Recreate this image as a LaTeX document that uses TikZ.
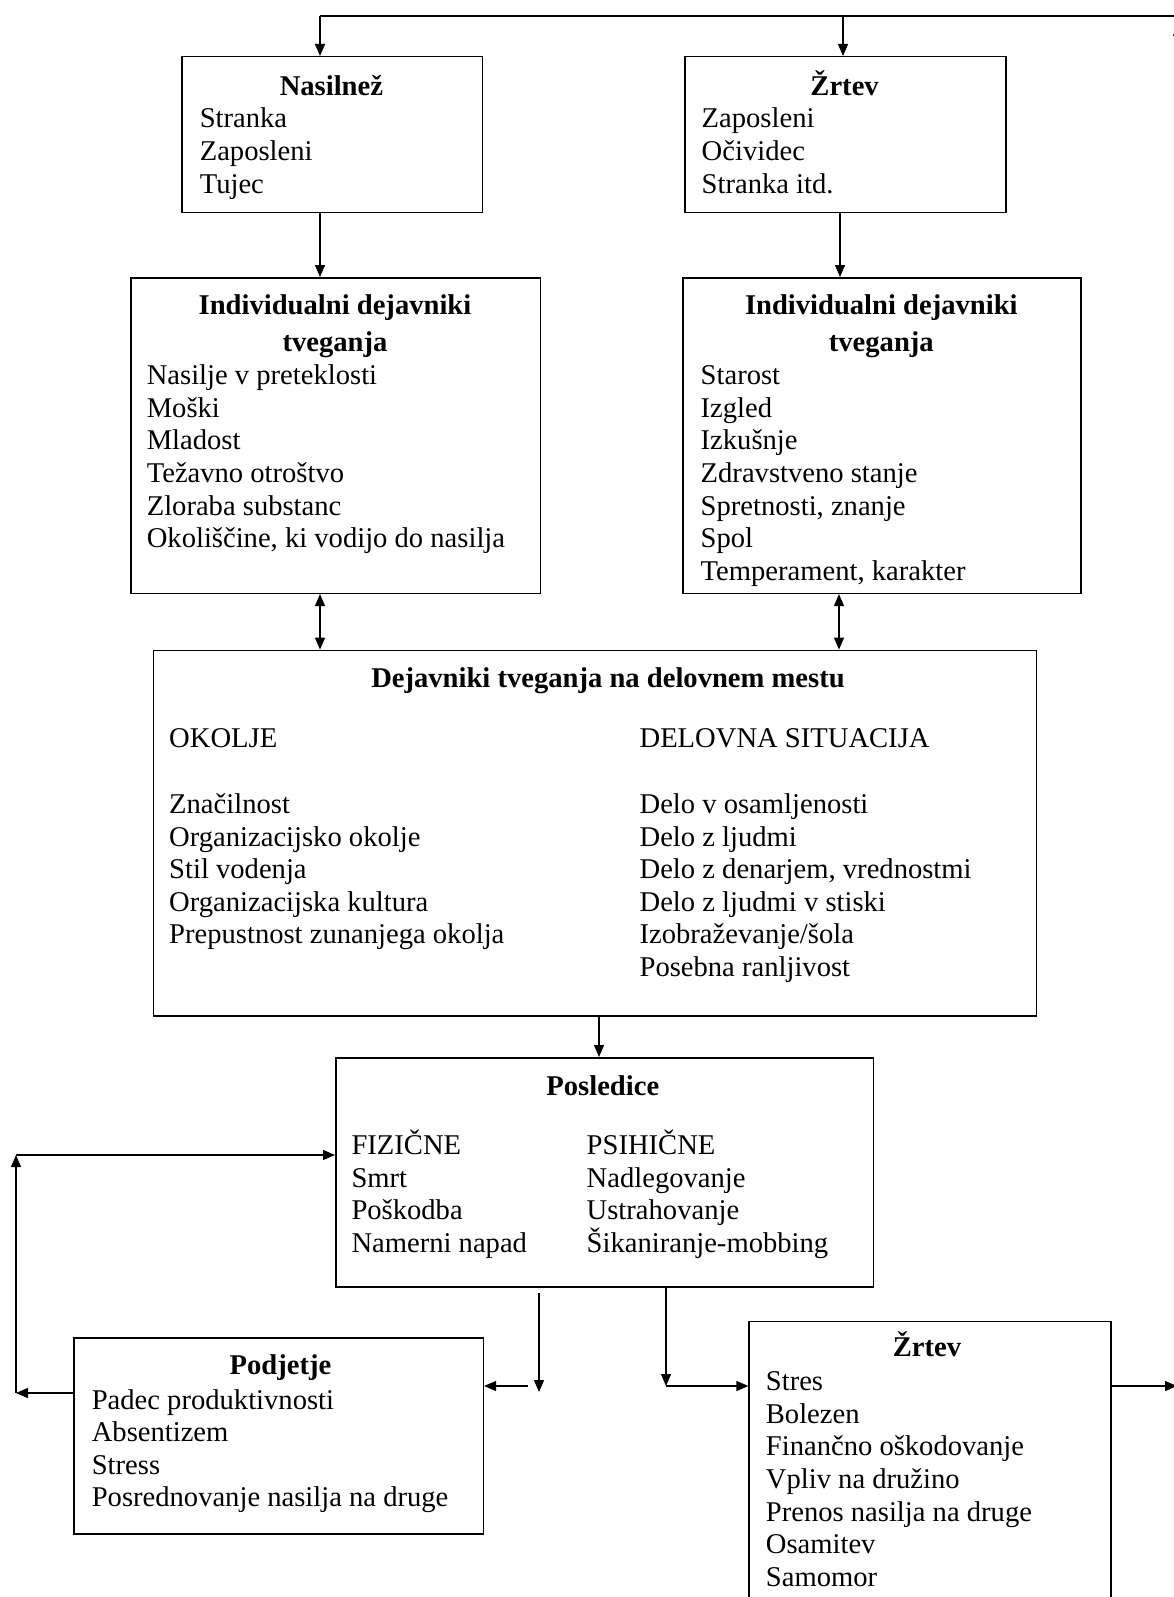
\documentclass[tikz,border=0pt]{standalone}
\usepackage{fontspec}
\setmainfont{Liberation Serif}
\usetikzlibrary{arrows.meta,positioning}

\tikzset{
  box/.style={draw, line width=1.5pt, anchor=north west, inner sep=0pt},
  ttl/.style={font=\fontsize{28.6}{32.6}\selectfont\bfseries, anchor=base, inner sep=0pt},
  itm/.style={anchor=base west, inner sep=0pt},
  ln/.style={line width=1.3pt},
  arr/.style={line width=1.3pt, -{Triangle[length=12pt,width=10pt]}},
  darr/.style={line width=1.3pt, {Triangle[length=12pt,width=10pt]}-{Triangle[length=12pt,width=10pt]}}
}

\begin{document}
\begin{tikzpicture}[x=1pt,y=-1pt,font=\fontsize{28.6}{32.6}\selectfont]
    \useasboundingbox (0,0) rectangle (1174,1597);

    % boxes
    \node[box, minimum width=300.4pt, minimum height=155.8pt] (nasilnez) at (181.2,56) {};
    \node[box, minimum width=320.8pt, minimum height=155.8pt] (zrtevA) at (684.2,56) {};
    \node[box, minimum width=409.3pt, minimum height=315.6pt] (indL) at (130.3,277) {};
    \node[box, minimum width=398.1pt, minimum height=315.6pt] (indR) at (682.2,277) {};
    \node[box, minimum width=882.8pt, minimum height=365.6pt] (dej) at (152.7,649.6) {};
    \node[box, minimum width=537.6pt, minimum height=229pt] (pos) at (335,1057) {};
    \node[box, minimum width=409.3pt, minimum height=196.4pt] (podj) at (73.3,1337) {};
    \node[box, minimum width=361.6pt, minimum height=320pt] (zrtevB) at (748.4,1320.6) {};

    % titles
    \node[ttl] (nasilnezT) at (331.4,95.5) {Nasilnež};
    \node[ttl] (zrtevAT) at (844.6,95.5) {Žrtev};
    \node[ttl] (indLT1) at (335,314.5) {Individualni dejavniki};
    \node[ttl] (indLT2) at (335,351) {tveganja};
    \node[ttl] (indRT1) at (881.3,314.5) {Individualni dejavniki};
    \node[ttl] (indRT2) at (881.3,351) {tveganja};
    \node[ttl] (dejT) at (608,687) {Dejavniki tveganja na delovnem mestu};
    \node[ttl] (posT) at (602.8,1095.4) {Posledice};
    \node[ttl] (podjT) at (280.5,1374.4) {Podjetje};
    \node[ttl] (zrtevBT) at (927,1356) {Žrtev};

    % lists
    \foreach \t [count=\i] in {Stranka,Zaposleni,Tujec}
        \node[itm] (nas-\i) at (199.6,95.4+32.6*\i) {\t};
    \foreach \t [count=\i] in {Zaposleni,Očividec,Stranka itd.}
        \node[itm] (zra-\i) at (701.5,95.4+32.6*\i) {\t};
    \foreach \t [count=\i] in {Nasilje v preteklosti,Moški,Mladost,Težavno otroštvo,Zloraba substanc,{Okoliščine, ki vodijo do nasilja}}
        \node[itm] (indl-\i) at (146.6,352.1+32.6*\i) {\t};
    \foreach \t [count=\i] in {Starost,Izgled,Izkušnje,Zdravstveno stanje,{Spretnosti, znanje},Spol,{Temperament, karakter}}
        \node[itm] (indr-\i) at (700.5,352.1+32.6*\i) {\t};

    \node[itm] (okolje) at (169,747.2) {OKOLJE};
    \node[itm] (delsit) at (639.4,747.2) {DELOVNA SITUACIJA};
    \foreach \t [count=\i] in {Značilnost,Organizacijsko okolje,Stil vodenja,Organizacijska kultura,Prepustnost zunanjega okolja}
        \node[itm] (okl-\i) at (169,780.8+32.6*\i) {\t};
    \foreach \t [count=\i] in {Delo v osamljenosti,Delo z ljudmi,{Delo z denarjem, vrednostmi},Delo z ljudmi v stiski,Izobraževanje/šola,Posebna ranljivost}
        \node[itm] (dsi-\i) at (639.4,780.8+32.6*\i) {\t};

    \foreach \t [count=\i] in {FIZIČNE,Smrt,Poškodba,Namerni napad}
        \node[itm] (fiz-\i) at (351.3,1121.9+32.6*\i) {\t};
    \foreach \t [count=\i] in {PSIHIČNE,Nadlegovanje,Ustrahovanje,Šikaniranje-mobbing}
        \node[itm] (psi-\i) at (586.5,1121.9+32.6*\i) {\t};

    \foreach \t [count=\i] in {Padec produktivnosti,Absentizem,Stress,Posrednovanje nasilja na druge}
        \node[itm] (pod-\i) at (91.6,1376.4+32.6*\i) {\t};
    \foreach \t [count=\i] in {Stres,Bolezen,Finančno oškodovanje,Vpliv na družino,Prenos nasilja na druge,Osamitev,Samomor}
        \node[itm] (zrb-\i) at (765.7,1358.1+32.6*\i) {\t};

    % connectors, top
    \coordinate (tl) at (320,16);
    \coordinate (tr) at (843,16);
    \coordinate (tend) at (1180,16);
    \draw[ln] (tl) -- (tend);
    \draw[arr] (tl) -- (tl |- nasilnez.north);
    \draw[arr] (tr) -- (tr |- zrtevA.north);
    \draw[arr] (1178,60) -- (1178,24);

    \draw[arr] (320,0 |- nasilnez.south) -- (320,0 |- indL.north);
    \draw[arr] (840,0 |- zrtevA.south) -- (840,0 |- indR.north);
    \draw[darr] (320,0 |- indL.south) -- (320,0 |- dej.north);
    \draw[darr] (839,0 |- indR.south) -- (839,0 |- dej.north);
    \draw[arr] (599,0 |- dej.south) -- (599,0 |- pos.north);

    % connectors, bottom
    \coordinate (pd) at (539,1293);
    \draw[arr] (pd) -- (539,1392);
    \coordinate (pdl) at (528,1386);
    \draw[arr] (pdl) -- (pdl -| podj.east);
    \coordinate (pr) at (666,1386);
    \draw[arr] (pr |- pos.south) -- (pr);
    \draw[arr] (pr) -- (pr -| zrtevB.west);
    \coordinate (zr) at (1177,1386);
    \draw[arr] (zrtevB.east |- zr) -- (zr);

    % loop on the left
    \coordinate (ll) at (16,1393);
    \coordinate (lu) at (16,1155);
    \draw[arr] (podj.west |- ll) -- (ll);
    \draw[arr] (ll) -- (lu);
    \draw[arr] (lu) -- (lu -| pos.west);
\end{tikzpicture}
\end{document}
